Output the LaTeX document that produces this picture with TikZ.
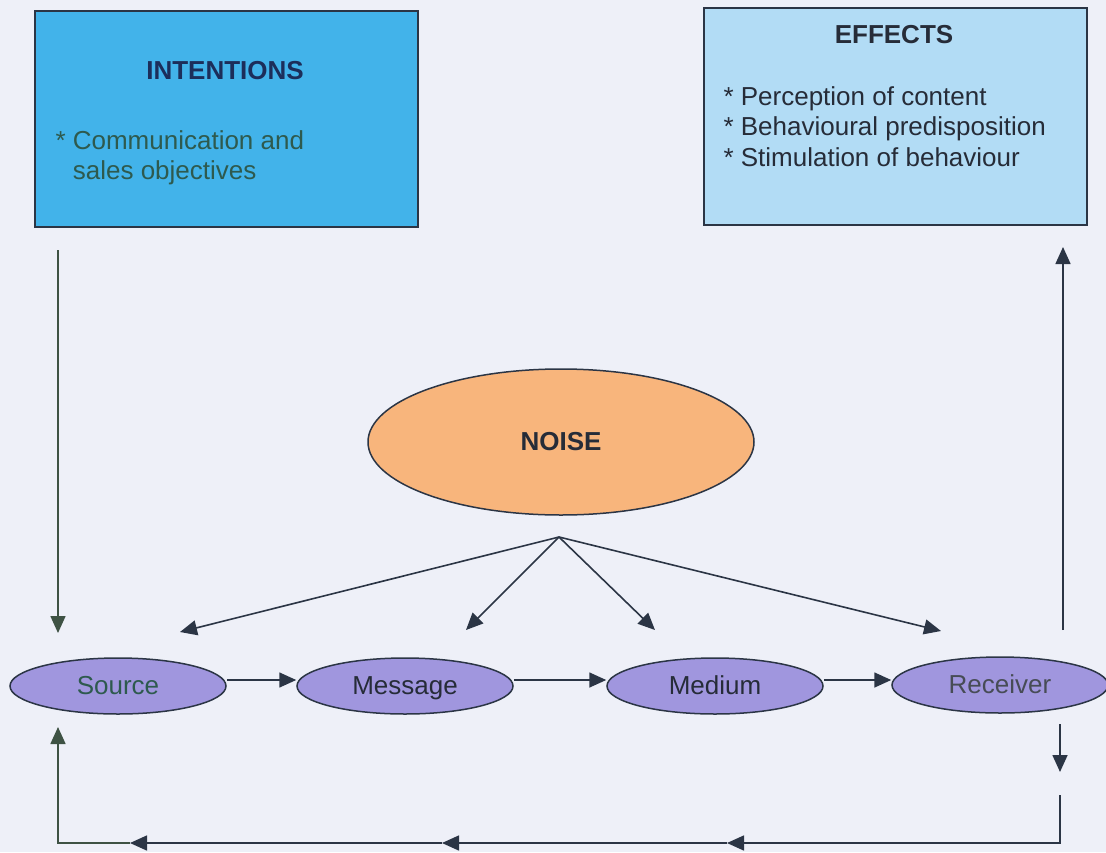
\documentclass[tikz,border=0pt]{standalone}
\usepackage{fontspec}
\setmainfont{Liberation Sans}
\usetikzlibrary{arrows.meta,shapes.geometric}
\definecolor{bg}{HTML}{EEF0F8}
\definecolor{intentfill}{HTML}{42B3EA}
\definecolor{effectfill}{HTML}{B2DCF5}
\definecolor{noisefill}{HTML}{F8B57C}
\definecolor{nodefill}{HTML}{A096DE}
\definecolor{edge}{HTML}{2B3545}
\definecolor{navy}{HTML}{1C2E5A}
\definecolor{greenink}{HTML}{2E5A4E}
\definecolor{darkink}{HTML}{262C38}
\definecolor{greenline}{HTML}{3E5244}
\begin{document}
\begin{tikzpicture}[x=1pt,y=-1pt,
  txt/.style={font=\fontsize{26}{30.5}\selectfont},
  box/.style={draw=edge,line width=1.5pt,inner sep=0pt,anchor=north west},
  stage/.style={ellipse,draw=edge,line width=1.5pt,fill=nodefill,
    minimum width=216pt,minimum height=56pt,inner sep=0pt,
    text height=19pt,text depth=3pt,
    font=\fontsize{26}{30}\selectfont,text=darkink},
  tip/.style={-{Triangle[length=17pt,width=15pt]}},
  link/.style={edge,line width=1.6pt,tip}]
\useasboundingbox[fill=bg] (0,0) rectangle (1106,852);

% top boxes
\node[box,fill=intentfill,minimum width=383pt,minimum height=216pt] (intent) at (34,10) {};
\node[txt,font=\fontsize{26}{30}\selectfont\bfseries,text=navy] (intentT) at (225,71) {INTENTIONS};
\node[txt,text=greenink,anchor=north west,align=left] (intentL) at (52,127)
  {* Communication and\\\hphantom{*} sales objectives};

\node[box,fill=effectfill,minimum width=383pt,minimum height=217pt] (effects) at (703,7) {};
\node[txt,font=\fontsize{26}{30}\selectfont\bfseries,text=darkink] (effectsT) at (894,35) {EFFECTS};
\node[txt,text=darkink,anchor=north west,align=left] (effectsL) at (720,83)
  {* Perception of content\\* Behavioural predisposition\\* Stimulation of behaviour};

% noise
\node[ellipse,draw=edge,line width=1.5pt,fill=noisefill,minimum width=386pt,
  minimum height=146pt,inner sep=0pt,font=\fontsize{26}{30}\selectfont\bfseries,
  text=darkink] (noise) at (561,442) {NOISE};

% communication chain
\node[stage,text=greenink] (source) at (118,686) {Source};
\node[stage] (message) at (405,686) {Message};
\node[stage] (medium) at (715,686) {Medium};
\node[stage,text=darkink!85] (receiver) at (1000,685) {Receiver};

\draw[link] (source.east |- 0,680) -- (message.west |- 0,680);
\draw[link] (message.east |- 0,680) -- (medium.west |- 0,680);
\draw[link] (medium.east |- 0,680) -- (receiver.west |- 0,680);

% noise fan
\coordinate (apex) at (559,537);
\coordinate (n1) at (180,632);
\coordinate (n2) at (466,630);
\coordinate (n3) at (655,630);
\coordinate (n4) at (941,631);
\foreach \t in {n1,n2,n3,n4} \draw[link] (apex) -- (\t);

% intentions feed the source
\coordinate (inA) at (58,250);
\coordinate (inB) at (58,633);
\draw[link,draw=greenline] (inA) -- (inB);

% receiver produces effects
\coordinate (effA) at (1063,630);
\coordinate (effB) at (1063,247);
\draw[link] (effA) -- (effB);

% feedback loop back to the source
\coordinate (fbA) at (1060,724);
\coordinate (fbB) at (1060,772);
\draw[link] (fbA) -- (fbB);
\coordinate (r0) at (1060,795);
\coordinate (r1) at (1060,843);
\coordinate (m1) at (727,843);
\coordinate (m2) at (442,843);
\coordinate (m3) at (130,843);
\coordinate (r2) at (58,843);
\coordinate (r3) at (58,727);
\draw[link] (r0) -- (r1) -- (m1);
\draw[link] (m1) -- (m2);
\draw[link] (m2) -- (m3);
\draw[link,draw=greenline] (m3) -- (r2) -- (r3);
\end{tikzpicture}
\end{document}
